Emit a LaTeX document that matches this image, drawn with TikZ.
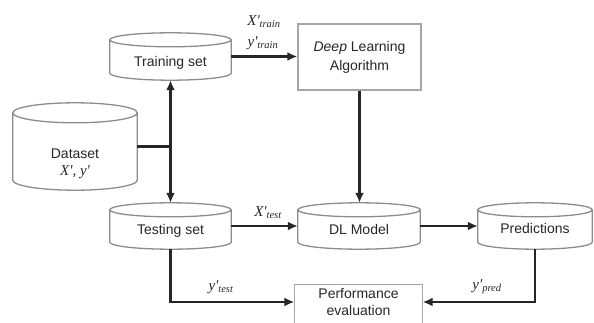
\documentclass[tikz,border=0pt]{standalone}
\usepackage{fontspec}
\setmainfont{Liberation Sans}
\newfontfamily\lserif{Liberation Serif}
\usetikzlibrary{arrows.meta,calc}
\tikzset{
  cylnode/.style={rectangle, inner sep=0pt, text=black!85, font=\fontsize{14}{17}\selectfont},
  boxnode/.style={rectangle, draw=gray!70, line width=1.3pt, inner sep=0pt, text=black!85, font=\fontsize{14}{19}\selectfont, align=center},
  boxline/.style={draw=gray!70, line width=1.3pt},
  cylline/.style={draw=gray!90, line width=1.3pt},
  conn/.style={draw=black!85, line width=2.6pt},
  arr/.style={conn, -{Latex[length=10pt,width=9pt]}},
  lab/.style={text=black!85, font=\lserif\itshape\fontsize{15}{17}\selectfont, inner sep=1pt}
}
\newcommand\drawcyl[2]{%
  \draw[cylline] let \p1=(#1.west), \p2=(#1.east), \n1={(\x2-\x1)/2} in
    ($(#1.north west)+(0,-#2)$) -- ($(#1.south west)+(0,#2)$)
    arc[start angle=180,end angle=360,x radius=\n1,y radius=#2]
    -- ($(#1.north east)+(0,-#2)$)
    arc[start angle=0,end angle=180,x radius=\n1,y radius=#2]
    arc[start angle=180,end angle=360,x radius=\n1,y radius=#2];}
\begin{document}
\begin{tikzpicture}[x=1pt,y=1pt]
\useasboundingbox (0,0) rectangle (594,322);
\clip (0,0) rectangle (594,322);
% cylinders
\node[cylnode, minimum width=121pt, minimum height=47pt, text height=23pt, text depth=3pt] (train) at (170.5,265.5) {Training set};
\node[cylnode, minimum width=121pt, minimum height=46pt, text height=19pt, text depth=3pt] (test) at (170.5,96) {Testing set};
\node[cylnode, minimum width=124pt, minimum height=87pt, align=center, text height=60pt, text depth=3pt] (data) at (75,175.5) {Dataset\\{\lserif\itshape\fontsize{15}{17}\selectfont X', y'}};
\node[cylnode, minimum width=122pt, minimum height=46pt, text height=19pt, text depth=3pt] (dlm) at (359,96) {DL Model};
\node[cylnode, minimum width=114pt, minimum height=46pt, text height=17pt, text depth=3pt] (pred) at (535,96) {Predictions};
\drawcyl{train}{7pt}
\drawcyl{test}{7pt}
\drawcyl{data}{10pt}
\drawcyl{dlm}{7pt}
\drawcyl{pred}{7pt}
% boxes
\node[boxnode, minimum width=123pt, minimum height=66pt] (alg) at (359.5,265) {\textit{Deep} Learning\\Algorithm};
\node[boxnode, draw=none, minimum width=127pt, minimum height=34pt, font=\fontsize{14}{17}\selectfont] (perf) at (358.5,20) {Performance\\evaluation};
\draw[boxline] ($(perf.south west)+(0,-20)$) -- (perf.north west) -- (perf.north east) -- ($(perf.south east)+(0,-20)$);
% connectors
\coordinate (j) at (train.south |- data.east);
\draw[conn] (data.east) -- (j);
\draw[arr] (j) -- (train.south);
\draw[arr] (j) -- (test.north);
\draw[arr] (train.east) -- (train.east -| alg.west);
\draw[arr] (alg.south) -- (alg.south |- dlm.north);
\draw[arr] (test.east) -- (dlm.west);
\draw[arr] (dlm.east) -- (pred.west);
\draw[arr] (test.south) |- (perf.west);
\draw[arr] (pred.south) |- (perf.east);
% labels
\node[lab] (lxtrain) at (264,300) {X'\textsubscript{train}};
\node[lab] (lytrain) at (263,279) {y'\textsubscript{train}};
\node[lab] (lxtest) at (268,109) {X'\textsubscript{test}};
\node[lab] (lytest) at (221,35) {y'\textsubscript{test}};
\node[lab] (lypred) at (487,35) {y'\textsubscript{pred}};
\end{tikzpicture}
\end{document}
